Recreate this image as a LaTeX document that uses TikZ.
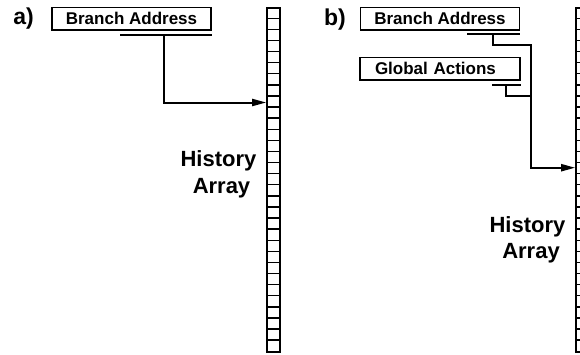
\documentclass[tikz,border=0pt]{standalone}
\usepackage{fontspec}
\setmainfont{Liberation Sans}
\usetikzlibrary{arrows.meta}
\begin{document}
\begin{tikzpicture}[x=1pt,y=-1pt,
  addr/.style={draw,line width=1.9pt,minimum width=159pt,minimum height=22.5pt,inner sep=0pt,font=\fontsize{17}{18}\bfseries\selectfont},
  tag/.style={font=\fontsize{23}{24}\bfseries\selectfont,inner sep=0pt},
  lbl/.style={font=\fontsize{22}{26}\bfseries\selectfont,inner sep=0pt,anchor=base},
  column/.style={draw,line width=1.6pt,minimum width=13pt,minimum height=344pt,inner sep=0pt},
  wire/.style={line width=2pt},
  link/.style={wire,-{Triangle[length=14pt,width=7pt]}}]
\useasboundingbox (0,0) rectangle (580,354);
\clip (0,0) rectangle (580,354);

\begin{scope} % a) address only
\node[tag] (tagA) at (23.5,19) {a)};
\node[addr] (addrA) at (131.5,18.7) {Branch Address};
\node[column] (colA) at (273.5,180) {};
\foreach \k in {1,...,30}
  \draw[line width=1.4pt] ([yshift=-\k*11.097pt]colA.north west) -- ([yshift=-\k*11.097pt]colA.north east);
\node[lbl] (histA) at (218.5,166) {History};
\node[lbl] (arrA) at (221.5,193) {Array};
\coordinate (busA) at (120,35.3);
\coordinate (tapA) at (164,35.3);
\coordinate (rowA) at (0,102.5);
\draw[wire] (busA) -- (busA -| addrA.east);
\draw[link] (tapA) |- (colA.west |- rowA);
\end{scope}

\begin{scope} % b) address and global actions
\node[tag] (tagB) at (335,19.5) {b)};
\node[addr] (addrB) at (440,18.7) {Branch Address};
\node[addr,minimum width=160pt,text width=130pt,inner xsep=15pt,align=left] (gactB) at (440,68.7) {Global Actions};
\node[column] (colB) at (582.5,180) {};
\foreach \k in {1,...,30}
  \draw[line width=1.4pt] ([yshift=-\k*11.097pt]colB.north west) -- ([yshift=-\k*11.097pt]colB.north east);
\node[lbl] (histB) at (527.5,232) {History};
\node[lbl] (arrB) at (531,258) {Array};
\coordinate (busB) at (467,34.3);
\coordinate (busG) at (492,85);
\coordinate (tapB) at (493.3,34.3);
\coordinate (tapG) at (506,85);
\coordinate (joinB) at (530.5,45);
\coordinate (joinG) at (530.5,96);
\coordinate (rowB) at (0,167.7);
\draw[wire] (busB) -- (busB -| addrB.east);
\draw[wire] (busG) -- (busG -| gactB.east);
\draw[wire] (tapG) |- (joinG);
\draw[link] (tapB) |- (joinB) |- (colB.west |- rowB);
\end{scope}
\end{tikzpicture}
\end{document}
